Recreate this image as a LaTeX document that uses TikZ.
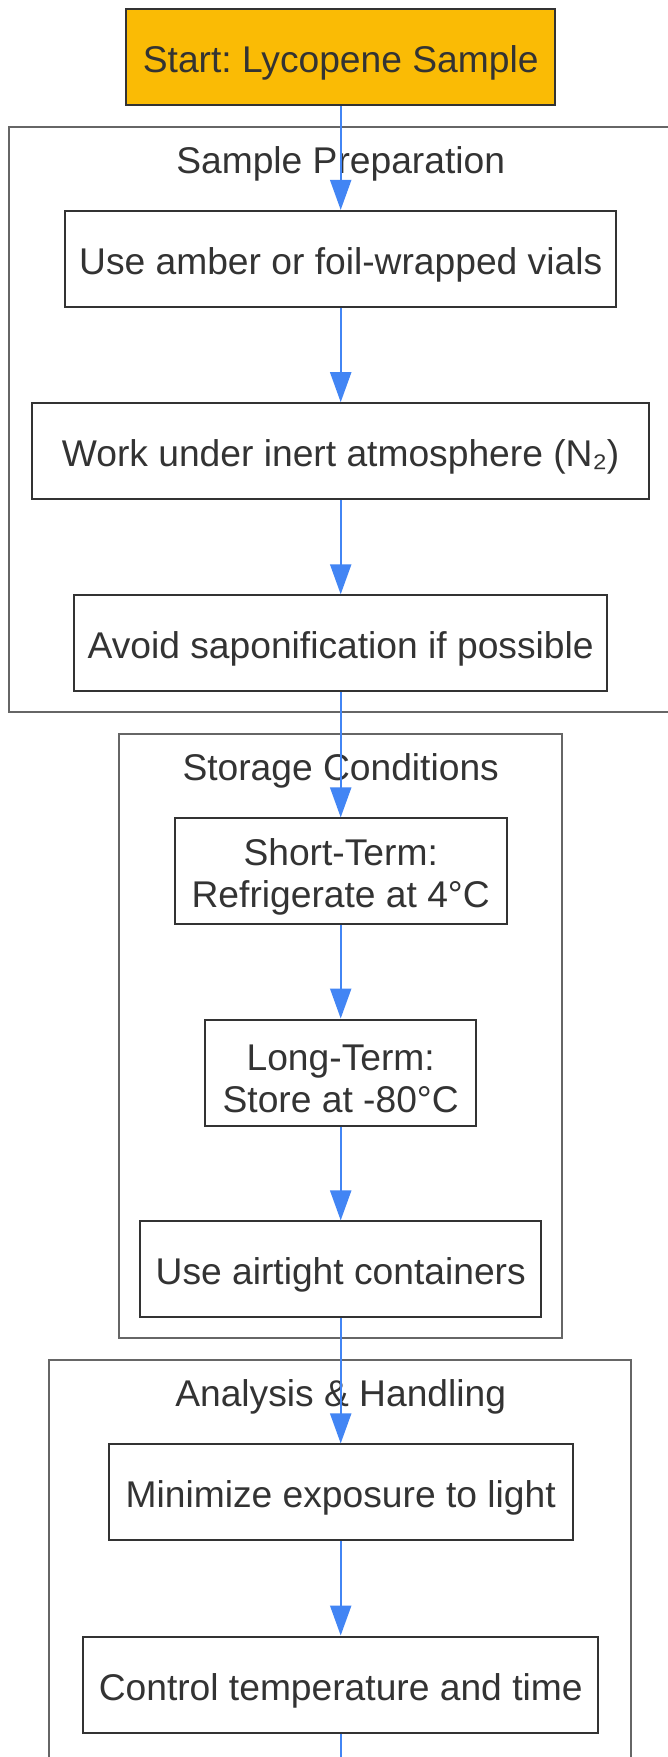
\documentclass[tikz,border=0pt]{standalone}
\usepackage{fontspec}
\setmainfont{Liberation Sans}
\usetikzlibrary{arrows.meta}
\definecolor{startfill}{HTML}{FABB05}
\definecolor{boxline}{HTML}{333333}
\definecolor{clusterline}{HTML}{666666}
\definecolor{arrowblue}{HTML}{4285F4}
\definecolor{txt}{HTML}{333333}
\newcommand{\topstrut}{\rule{0pt}{38.2pt}}
\begin{document}
\frenchspacing
\begin{tikzpicture}[x=1pt,y=-1pt,
  stepbox/.style={draw=boxline, line width=2pt, fill=white, text=txt,
    font=\fontsize{37.2}{41.5}\selectfont\frenchspacing, inner sep=0pt, align=center},
  oneline/.style={text height=31pt, text depth=0pt, minimum height=96pt},
  twoline/.style={minimum height=106pt},
  cluster/.style={draw=clusterline, line width=2pt, fill=white},
  clusterlabel/.style={text=txt, font=\fontsize{37.2}{41.5}\selectfont\frenchspacing, inner sep=0pt, anchor=base},
  flow/.style={draw=arrowblue, line width=2.2pt, -{Triangle[length=30pt,width=21pt]}}]
\clip (0,0) rectangle (668,1757);
\fill[white] (0,0) rectangle (668,1757);
% clusters
\draw[cluster] (9,126.6) rectangle (720,711.7);
\draw[cluster] (118.8,734) rectangle (561.5,1338);
\draw[cluster] (49.3,1359.5) rectangle (631,1800);
\node[clusterlabel] (lprep) at (340.7,173.1) {Sample Preparation};
\node[clusterlabel] (lstor) at (340.7,780) {Storage Conditions};
\node[clusterlabel] (lanal) at (340.7,1406.1) {Analysis \& Handling};
% nodes
\node[stepbox, oneline, fill=startfill, minimum width=429.3pt] (start) at (340.7,57.2) {Start: Lycopene Sample};
\node[stepbox, oneline, minimum width=551.5pt] (b1) at (340.7,258.9) {Use amber or foil-wrapped vials};
\node[stepbox, oneline, minimum width=616.5pt] (b2) at (340.7,451.2) {Work under inert atmosphere (N₂)};
\node[stepbox, oneline, minimum width=533.5pt] (b3) at (340.7,643.3) {Avoid saponification if possible};
\node[stepbox, twoline, minimum width=331.8pt] (b4) at (340.7,871.4) {\topstrut Short-Term:\\Refrigerate at 4°C};
\node[stepbox, twoline, minimum width=271.3pt] (b5) at (340.7,1072.5) {\topstrut Long-Term:\\Store at -80°C};
\node[stepbox, oneline, minimum width=401.3pt] (b6) at (340.7,1269.4) {Use airtight containers};
\node[stepbox, oneline, minimum width=464pt] (b7) at (340.7,1492.4) {Minimize exposure to light};
\node[stepbox, oneline, minimum width=515.5pt] (b8) at (340.7,1684.5) {Control temperature and time};
\coordinate (exit) at (340.7,1820);
% connectors
\draw[flow] (start.south) -- (b1.north);
\draw[flow] (b1.south) -- (b2.north);
\draw[flow] (b2.south) -- (b3.north);
\draw[flow] (b3.south) -- (b4.north);
\draw[flow] (b4.south) -- (b5.north);
\draw[flow] (b5.south) -- (b6.north);
\draw[flow] (b6.south) -- (b7.north);
\draw[flow] (b7.south) -- (b8.north);
\draw[flow] (b8.south) -- (exit);
\end{tikzpicture}
\end{document}
